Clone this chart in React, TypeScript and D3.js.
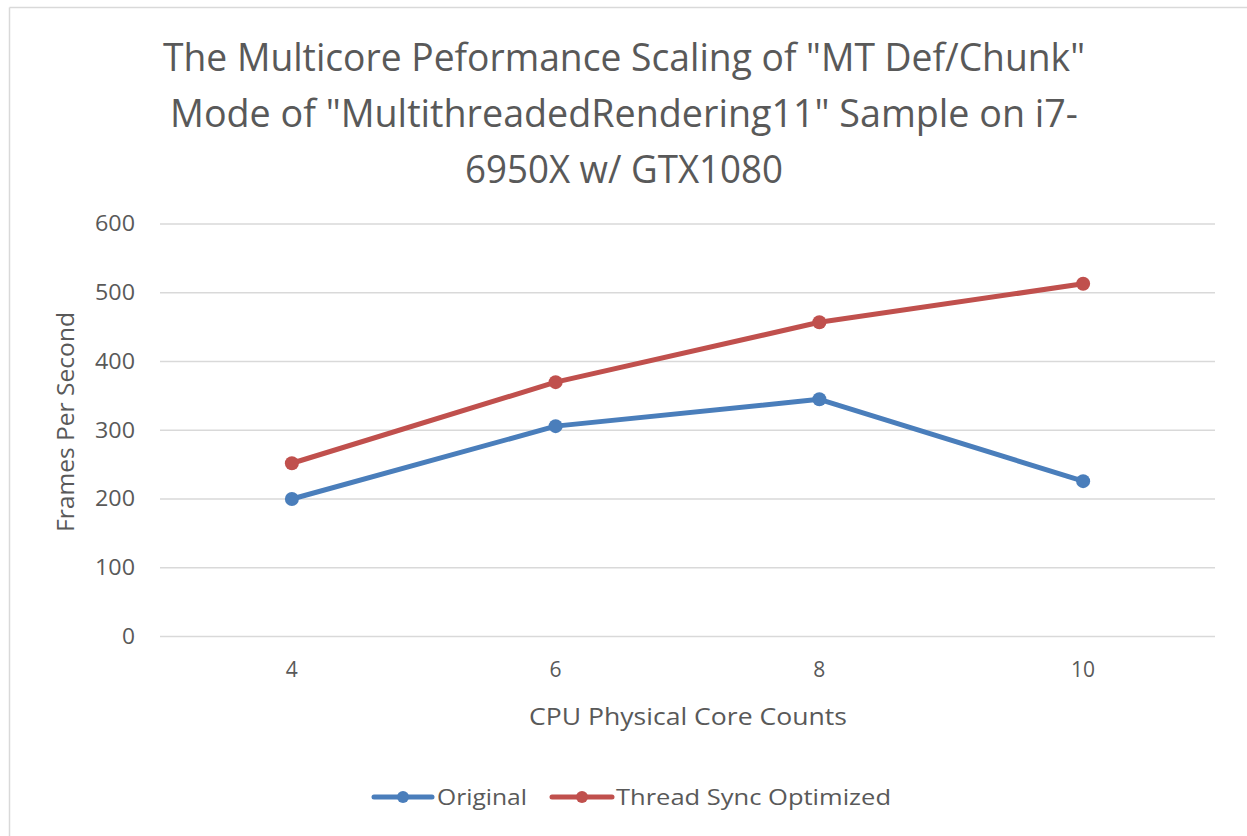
import React from "react";
import * as d3 from "d3";

// Data
const cores = ["4", "6", "8", "10"];
const original = [200, 306, 345, 226];
const optimized = [252, 370, 457, 513];
const yTicks = [0, 100, 200, 300, 400, 500, 600];

const titleLines = [
	'The Multicore Peformance Scaling of "MT Def/Chunk"',
	'Mode of "MultithreadedRendering11" Sample on i7-',
	"6950X w/ GTX1080",
];
const titleWidths = [922, 908, 318];

const seriesDefs = [
	{ name: "Original", values: original, color: "#4a7ebb" },
	{ name: "Thread Sync Optimized", values: optimized, color: "#c0504d" },
];

const W = 1247;
const H = 836;
const FONT = "'Open Sans', 'DejaVu Sans', sans-serif";
const TEXT = "#595959";

const App: React.FC = () => {
	// plot area
	const left = 160;
	const right = 1215;
	const top = 224;
	const bottom = 636.5;

	const x = d3.scalePoint<string>().domain(cores).range([left, right]).padding(0.5);
	const y = d3.scaleLinear().domain([0, 600]).range([bottom, top]);

	const line = d3
		.line<number>()
		.x((_, i) => x(cores[i]) as number)
		.y((d) => y(d));

	// legend layout
	const legendY = 797;
	const legendItems = [
		{ x0: 374, x1: 432, textX: 437, textW: 90 },
		{ x0: 552, x1: 612, textX: 616, textW: 275 },
	];

	return (
		<svg
			width={W}
			height={H}
			style={{ position: "absolute", left: 0, top: 0, display: "block", background: "#fff" }}
			fontFamily={FONT}
		>
			<rect x={0} y={0} width={W} height={H} fill="#fff" />
			{/* frame edges */}
			<line x1={9.5} x2={W} y1={7.5} y2={7.5} stroke="#d9d9d9" strokeWidth={1.5} />
			<line x1={9.5} x2={9.5} y1={7.5} y2={H} stroke="#d9d9d9" strokeWidth={1.5} />

			{/* Title */}
			{titleLines.map((t, i) => (
				<text
					key={i}
					x={624}
					y={71 + i * 56}
					textAnchor="middle"
					fontSize={38}
					fill={TEXT}
					textLength={titleWidths[i]}
					lengthAdjust="spacingAndGlyphs"
				>
					{t}
				</text>
			))}

			{/* gridlines + y ticks */}
			{yTicks.map((t) => (
				<g key={t}>
					<line x1={left} x2={right} y1={y(t)} y2={y(t)} stroke="#d9d9d9" strokeWidth={1.5} />
					<text x={135} y={y(t)} dy="0.35em" textAnchor="end" fontSize={21} fill={TEXT} textLength={t === 0 ? 13 : 40} lengthAdjust="spacingAndGlyphs">
						{t}
					</text>
				</g>
			))}

			{/* x tick labels */}
			{cores.map((c) => (
				<text key={c} x={x(c)} y={670} dy="0.35em" textAnchor="middle" fontSize={21} fill={TEXT}>
					{c}
				</text>
			))}

			{/* axis titles */}
			<text
				x={688}
				y={717}
				dy="0.35em"
				textAnchor="middle"
				fontSize={23}
				fill={TEXT}
				textLength={318}
				lengthAdjust="spacingAndGlyphs"
			>
				CPU Physical Core Counts
			</text>
			<text
				transform="translate(66,422) rotate(-90)"
				dy="0.35em"
				textAnchor="middle"
				fontSize={23}
				fill={TEXT}
				textLength={220}
				lengthAdjust="spacingAndGlyphs"
			>
				Frames Per Second
			</text>

			{/* series */}
			{seriesDefs.map((s) => (
				<g key={s.name}>
					<path d={line(s.values) || ""} fill="none" stroke={s.color} strokeWidth={5} strokeLinejoin="round" strokeLinecap="round" />
					{s.values.map((v, i) => (
						<circle key={i} cx={x(cores[i])} cy={y(v)} r={7} fill={s.color} />
					))}
				</g>
			))}

			{/* legend */}
			{seriesDefs.map((s, i) => {
				const it = legendItems[i];
				return (
					<g key={s.name}>
						<line x1={it.x0} x2={it.x1} y1={legendY} y2={legendY} stroke={s.color} strokeWidth={5} strokeLinecap="round" />
						<circle cx={(it.x0 + it.x1) / 2} cy={legendY} r={6} fill={s.color} />
						<text
							x={it.textX}
							y={legendY}
							dy="0.35em"
							fontSize={22}
							fill={TEXT}
							textLength={it.textW}
							lengthAdjust="spacingAndGlyphs"
						>
							{s.name}
						</text>
					</g>
				);
			})}
		</svg>
	);
};

export default App;
